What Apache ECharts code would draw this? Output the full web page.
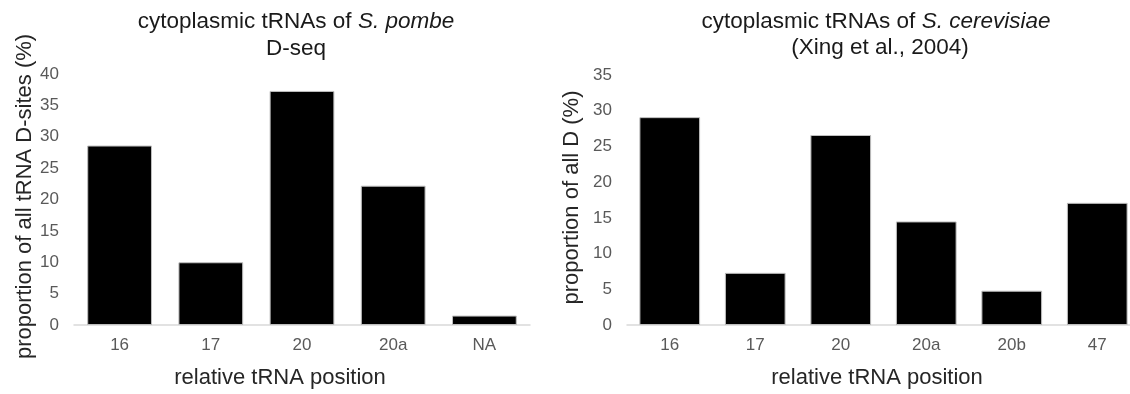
<!DOCTYPE html>
<html>
<head>
<meta charset="utf-8">
<script src="https://cdn.jsdelivr.net/npm/echarts@6/dist/echarts.min.js"></script>
<style>
html,body{margin:0;padding:0;background:#fff;overflow:hidden;}
#chart{width:1140px;height:394px;}
</style>
</head>
<body>
<div id="chart"></div>
<script>
// Left panel: S. pombe, D-seq
const pombeCategories = ['16', '17', '20', '20a', 'NA'];
const pombeValues = [28.6, 10.0, 37.3, 22.2, 1.5];
// Right panel: S. cerevisiae (Xing et al., 2004)
const cerevisiaeCategories = ['16', '17', '20', '20a', '20b', '47'];
const cerevisiaeValues = [29.1, 7.3, 26.6, 14.5, 4.8, 17.1];

const leftTitle1 = 'cytoplasmic tRNAs of ';
const leftTitleItalic = 'S. pombe';
const leftTitle2 = 'D-seq';
const rightTitle1 = 'cytoplasmic tRNAs of ';
const rightTitleItalic = 'S. cerevisiae';
const rightTitle2 = '(Xing et al., 2004)';
const xName = 'relative tRNA position';
const leftYName = 'proportion of all tRNA D-sites (%)';
const rightYName = 'proportion of all D (%)';

const FONT = "'Liberation Sans', Arial, sans-serif";
const chart = echarts.init(document.getElementById('chart'));

function titleLine(text, italicText, x, y) {
  const t = italicText ? '{n|' + text + '}{i|' + italicText + '}' : '{n|' + text + '}';
  return {
    text: t,
    left: x, top: y, padding: 0,
    textAlign: 'center',
    textStyle: {
      fontFamily: FONT, fontSize: 22.5, fontWeight: 'normal', color: '#1a1a1a',
      rich: {
        n: {fontFamily: FONT, fontSize: 22.5, color: '#1a1a1a', lineHeight: 22},
        i: {fontFamily: FONT, fontSize: 22.5, color: '#1a1a1a', fontStyle: 'italic', lineHeight: 22}
      }
    }
  };
}

function xAxisCfg(idx, cats, namePad) {
  return {
    type: 'category', gridIndex: idx, data: cats,
    axisLine: {show: true, lineStyle: {color: '#d9d9d9', width: 1.5}},
    axisTick: {show: false},
    axisLabel: {fontFamily: FONT, fontSize: 17, color: '#595959', margin: 12},
    name: xName, nameLocation: 'middle', nameGap: 42,
    nameTextStyle: {fontFamily: FONT, fontSize: 22, color: '#262626', padding: namePad}
  };
}
function yAxisCfg(idx, max, name, gap, namePad) {
  return {
    type: 'value', gridIndex: idx, min: 0, max: max, interval: 5,
    axisLine: {show: false}, axisTick: {show: false}, splitLine: {show: false},
    axisLabel: {fontFamily: FONT, fontSize: 17, color: '#595959', margin: 15},
    name: name, nameLocation: 'middle', nameGap: gap, nameRotate: 90,
    nameTextStyle: {fontFamily: FONT, fontSize: 22, color: '#262626', padding: namePad}
  };
}

chart.setOption({
  animation: false,
  backgroundColor: '#ffffff',
  title: [
    titleLine(leftTitle1, leftTitleItalic, 296, 11),
    titleLine(leftTitle2, null, 296, 38),
    titleLine(rightTitle1, rightTitleItalic, 876, 11),
    titleLine(rightTitle2, null, 880, 37)
  ],
  grid: [
    {left: 74, width: 456, top: 74, bottom: 67, containLabel: false},
    {left: 627, width: 513, top: 75, bottom: 69, containLabel: false}
  ],
  xAxis: [xAxisCfg(0, pombeCategories, [0, 44, 0, 0]), xAxisCfg(1, cerevisiaeCategories, [0, 13, 0, 0])],
  yAxis: [yAxisCfg(0, 40, leftYName, 38, [0, 0, 0, 6]), yAxisCfg(1, 35, rightYName, 44, [0, 0, 0, 5])],
  series: [
    {type: 'bar', xAxisIndex: 0, yAxisIndex: 0, data: pombeValues, barCategoryGap: '29%',
     itemStyle: {color: '#000000', borderColor: '#bfbfbf', borderWidth: 1}},
    {type: 'bar', xAxisIndex: 1, yAxisIndex: 1, data: cerevisiaeValues, barCategoryGap: '29%',
     itemStyle: {color: '#000000', borderColor: '#bfbfbf', borderWidth: 1}}
  ]
});
</script>
</body>
</html>
